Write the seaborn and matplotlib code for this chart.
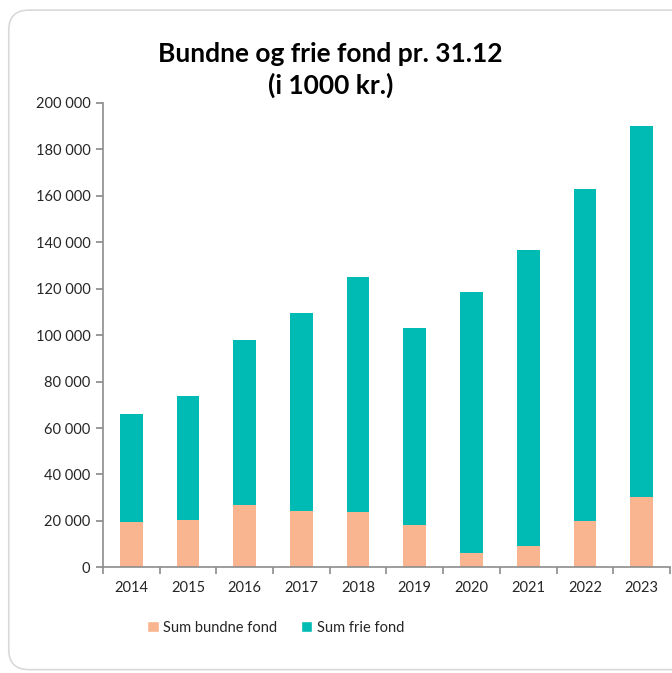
import matplotlib
matplotlib.use("Agg")
import matplotlib.pyplot as plt
import pandas as pd
import seaborn as sns
from matplotlib.patches import FancyBboxPatch, Patch
from matplotlib.ticker import FuncFormatter, FixedLocator

years = ["2014", "2015", "2016", "2017", "2018", "2019", "2020", "2021", "2022", "2023"]
bundne = [19400, 20400, 26800, 24400, 23700, 18100, 6300, 9400, 20000, 30500]
frie = [46600, 53300, 71200, 85300, 101500, 85000, 112400, 127400, 143000, 159600]

peach = "#F8B58F"
teal = "#00BBB4"
axis_grey = "#8C8C8C"

df = pd.DataFrame({"År": years, "bundne": bundne, "frie": frie})
df["total"] = df["bundne"] + df["frie"]

sns.set_theme(style="white")
plt.rcParams["font.family"] = ["Lato", "DejaVu Sans"]

fig = plt.figure(figsize=(6.72, 6.73), dpi=100)
ax = fig.add_axes([0.153, 0.157, 0.844, 0.690])

# stacked: total (frie on top) first, then bundne over it
sns.barplot(data=df, x="År", y="total", color=teal, width=0.4,
            saturation=1, ax=ax, linewidth=0)
sns.barplot(data=df, x="År", y="bundne", color=peach, width=0.4,
            saturation=1, ax=ax, linewidth=0)

ax.set_xlim(-0.5, len(years) - 0.5)
ax.set_ylim(0, 200000)
ax.set_yticks(range(0, 200001, 20000))
ax.yaxis.set_major_formatter(
    FuncFormatter(lambda v, p: f"{int(v):,}".replace(",", " ")))
ax.set_xlabel("")
ax.set_ylabel("")

for s in ["top", "right"]:
    ax.spines[s].set_visible(False)
for s in ["left", "bottom"]:
    ax.spines[s].set_color(axis_grey)
    ax.spines[s].set_linewidth(1.2)

ax.tick_params(axis="y", which="major", left=True, length=5, color=axis_grey,
               labelsize=10.5, labelcolor="#262626", pad=4)
ax.tick_params(axis="x", which="major", bottom=False, length=0,
               labelsize=10.5, labelcolor="#262626", pad=10)
ax.xaxis.set_minor_locator(FixedLocator([i - 0.5 for i in range(len(years) + 1)]))
ax.tick_params(axis="x", which="minor", bottom=True, length=5, color=axis_grey,
               width=1.2)

fig.text(0.492, 0.896, "Bundne og frie fond pr. 31.12\n(i 1000 kr.)",
         ha="center", va="center", fontsize=19, fontweight="bold",
         linespacing=1.35, color="black")

handles = [Patch(facecolor=peach, label="Sum bundne fond"),
           Patch(facecolor=teal, label="Sum frie fond")]
fig.legend(handles=handles, loc="center", bbox_to_anchor=(0.41, 0.067),
           ncol=2, frameon=False, fontsize=10.5, handlelength=0.8,
           handleheight=0.8, handletextpad=0.3, columnspacing=1.6)

border = FancyBboxPatch((0.013, 0.005), 1.2, 0.98,
                        boxstyle="round,pad=0,rounding_size=0.03",
                        transform=fig.transFigure, facecolor="none",
                        edgecolor="#D9D9D9", linewidth=1.2, zorder=0)
fig.patches.append(border)

fig.savefig("out.png", dpi=100)
